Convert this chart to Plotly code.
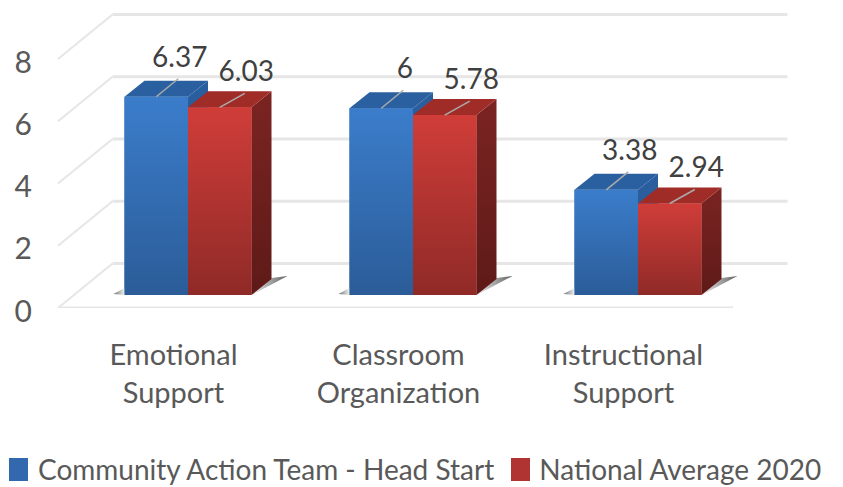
import plotly.graph_objects as go

categories = ["Emotional<br>Support", "Classroom<br>Organization", "Instructional<br>Support"]
series_names = ["Community Action Team - Head Start", "National Average 2020"]
team_values = [6.37, 6, 3.38]
national_values = [6.03, 5.78, 2.94]
value_labels_team = ["6.37", "6", "3.38"]
value_labels_national = ["6.03", "5.78", "2.94"]
y_ticks = [0, 2, 4, 6, 8]

FONT = "Lato, sans-serif"
TEXT = "#595959"
W, H, L, FLOOR_PX = 835, 479, 32, 300
PX_X = 225.0
PX_Y = 31.125
def dx(p): return p / PX_X
def dy(p): return p / PX_Y

XMIN, XMAX = (L - 50) / PX_X - 0.5, (W - 50) / PX_X - 0.5
YMAX = FLOOR_PX / PX_Y
BAR_W = dx(63.5)
INSET_X, INSET_Y = dx(17.5), dy(13)
DEPTH_X, DEPTH_Y = dx(20), dy(16)
WALL_X, WALL_Y = dx(54.5), dy(44.5)

fig = go.Figure()
xs_team = [i + INSET_X - BAR_W / 2 for i in range(3)]
xs_nat = [i + INSET_X + BAR_W / 2 for i in range(3)]

BLUE, RED = "#3268ae", "#b03431"
fig.add_bar(x=xs_team, y=team_values, base=INSET_Y, width=BAR_W, name=series_names[0],
            marker=dict(color=BLUE, line=dict(width=0)), hoverinfo="skip")
fig.add_bar(x=xs_nat, y=national_values, base=INSET_Y, width=BAR_W, name=series_names[1],
            marker=dict(color=RED, line=dict(width=0)), hoverinfo="skip")

def poly(xs, ys, colors, kind="vertical"):
    if isinstance(colors, str):
        fig.add_scatter(x=xs + xs[:1], y=ys + ys[:1], mode="lines", fill="toself", fillcolor=colors,
                        line=dict(width=0), showlegend=False, hoverinfo="skip")
    else:
        fig.add_scatter(x=xs + xs[:1], y=ys + ys[:1], mode="lines", line=dict(width=0), showlegend=False,
                        hoverinfo="skip", fill="toself",
                        fillgradient=dict(type=kind, colorscale=[[0, colors[1]], [1, colors[0]]]))

shapes = []
for v in y_ticks:
    bx, by = -0.5 + WALL_X, v + WALL_Y
    shapes.append(dict(type="line", layer="below", xref="x", yref="y", x0=-0.5, y0=v, x1=bx, y1=by,
                       line=dict(color="#e6e6e6", width=2)))
    shapes.append(dict(type="line", layer="below", xref="x", yref="y", x0=bx, y0=by, x1=2.5 + WALL_X, y1=by,
                       line=dict(color="#e6e6e6", width=3)))
shapes.append(dict(type="line", layer="below", xref="x", yref="y", x0=-0.5, y0=0, x1=2.5, y1=0,
                   line=dict(color="#e6e6e6", width=3)))

# legend swatches, enlarged behind the library's own legend glyphs
for x0, x1, col in [(1, 20, BLUE), (503, 522, RED)]:
    shapes.append(dict(type="rect", layer="above", xref="paper", yref="paper",
                       x0=(x0 - L) / (W - L), x1=(x1 - L) / (W - L),
                       y0=-(473 - FLOOR_PX) / FLOOR_PX, y1=-(450 - FLOOR_PX) / FLOOR_PX,
                       fillcolor=col, line=dict(width=0)))

def bar3d(x0, v, front, side, top, lead, lab):
    x1 = x0 + BAR_W
    y0, y1 = INSET_Y, INSET_Y + v
    poly([x1, x1 + DEPTH_X, x1 + DEPTH_X, x1], [y1, y1 + DEPTH_Y, y0 + DEPTH_Y, y0], side)
    poly([x0, x1, x1 + DEPTH_X, x0 + DEPTH_X], [y1, y1, y1 + DEPTH_Y, y1 + DEPTH_Y], top)
    poly([x0, x1, x1, x0], [y1, y1, y0, y0], front)
    cx = (x0 + x1) / 2
    return (cx, y1, cx + dx(lead[0]), y1 + dy(lead[1]), lab)

leaders = []
for i in range(3):
    lx = xs_team[i] - BAR_W / 2
    rx = xs_nat[i] + BAR_W / 2
    poly([lx - dx(11), lx, lx], [INSET_Y + dy(1), INSET_Y + dy(7), INSET_Y], ["#f2f2f2", "#707070"], "horizontal")
    poly([rx, rx + dx(36), rx + dx(20)], [INSET_Y, INSET_Y + dy(19), INSET_Y + dy(17)],
         ["#606060", "#ececec"], "horizontal")
    leaders.append(bar3d(xs_team[i] - BAR_W / 2, team_values[i], ["#3b7dcb", "#2b5c98"], ["#2a5f9f", "#27558f"],
                         "#2a609f", (22, 18), value_labels_team[i]))
    leaders.append(bar3d(xs_nat[i] - BAR_W / 2, national_values[i], ["#d03d39", "#8f2a27"], ["#7b2422", "#5e1a18"],
                         "#a02c28", (25, 14), value_labels_national[i]))

for cx, y1, ex, ey, lab in leaders:
    fig.add_scatter(x=[cx, ex], y=[y1, ey], mode="lines", line=dict(color="#ababab", width=1.5),
                    showlegend=False, hoverinfo="skip")
fig.add_scatter(x=[l[2] + dx(1.5) for l in leaders], y=[l[3] + dy(5) for l in leaders], text=[l[4] for l in leaders],
                mode="text", textposition="top center",
                textfont=dict(family=FONT, size=28, color="#404040"), showlegend=False, hoverinfo="skip")

fig.update_layout(
    width=W, height=H, autosize=False,
    margin=dict(l=L, r=0, t=0, b=H - FLOOR_PX, autoexpand=False),
    paper_bgcolor="white", plot_bgcolor="white",
    barmode="overlay", shapes=shapes,
    xaxis=dict(range=[XMIN, XMAX], tickmode="array", tickvals=[i + dx(3) for i in range(3)], ticktext=categories,
               showgrid=False, zeroline=False, showline=False, ticks="", ticklabelstandoff=27,
               tickfont=dict(family=FONT, size=29, color=TEXT), tickangle=0),
    yaxis=dict(range=[0, YMAX], tickmode="array", tickvals=y_ticks, showgrid=False, zeroline=False, showline=False,
               ticks="", ticklabelstandoff=7, ticklabelshift=3, tickfont=dict(family=FONT, size=30, color=TEXT)),
    legend=dict(orientation="h", x=(-10 - L) / (W - L), y=-(461 - FLOOR_PX) / FLOOR_PX, xanchor="left", yanchor="middle",
                font=dict(family=FONT, size=28, color=TEXT), itemwidth=30, bgcolor="rgba(0,0,0,0)"),
    font=dict(family=FONT),
)
fig.write_html("out.html")
